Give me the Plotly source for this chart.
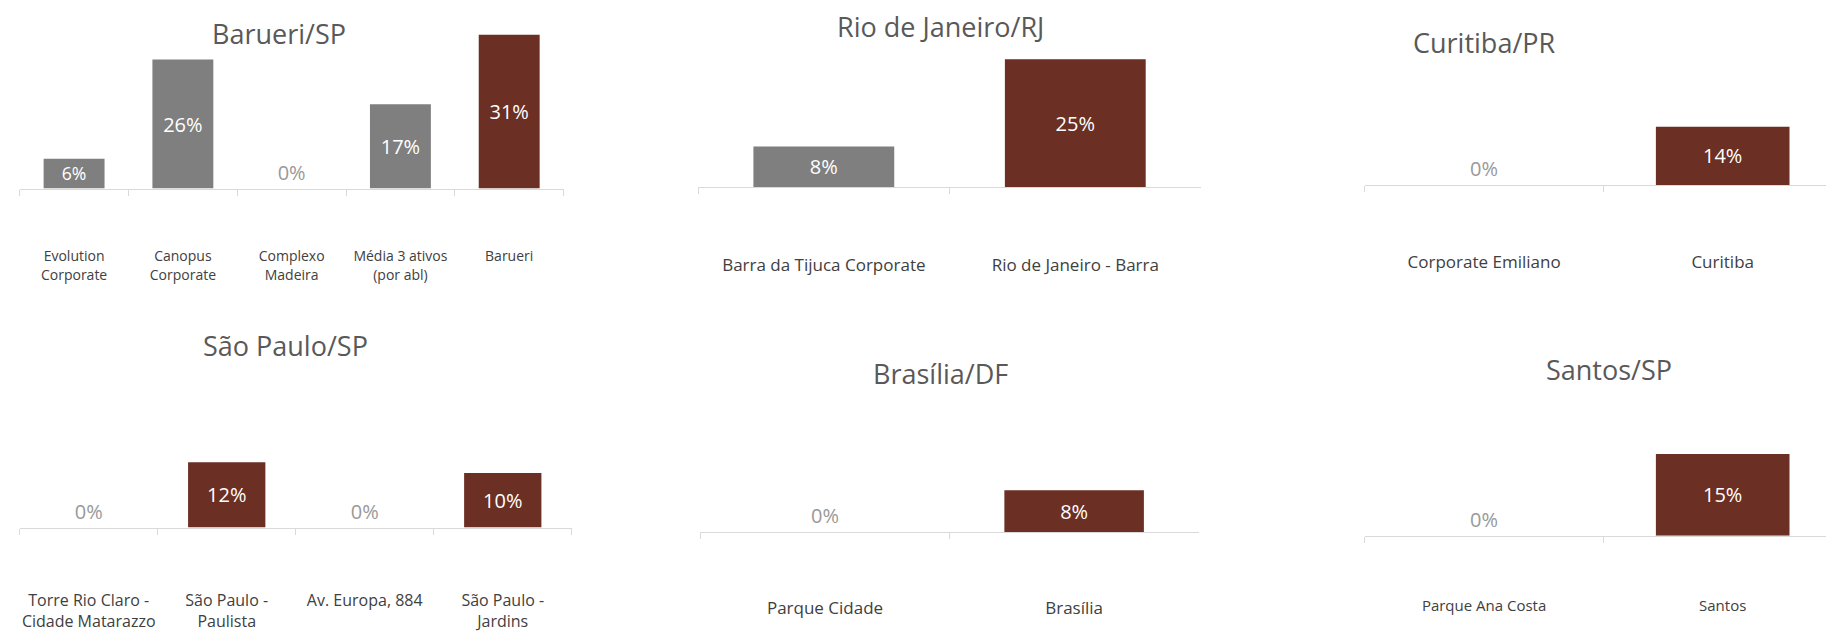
import plotly.graph_objects as go

H = 546.0
W = 1568.0
GREY = "#7f7f7f"
BROWN = "#6b2f23"

titles = ["Barueri/SP", "Rio de Janeiro/RJ", "Curitiba/PR", "São Paulo/SP", "Brasília/DF", "Santos/SP"]
cats = [
    ["Evolution<br>Corporate", "Canopus<br>Corporate", "Complexo<br>Madeira", "Média 3 ativos<br>(por abl)", "Barueri"],
    ["Barra da Tijuca Corporate", "Rio de Janeiro - Barra"],
    ["Corporate Emiliano", "Curitiba"],
    ["Torre Rio Claro -<br>Cidade Matarazzo", "São Paulo -<br>Paulista", "Av. Europa, 884", "São Paulo -<br>Jardins"],
    ["Parque Cidade", "Brasília"],
    ["Parque Ana Costa", "Santos"],
]
vals = [
    [6, 26, 0, 17, 31],
    [8, 25],
    [0, 14],
    [0, 12, 0, 10],
    [0, 8],
    [0, 15],
]
colors = [
    [GREY, GREY, GREY, GREY, BROWN],
    [GREY, BROWN],
    [GREY, BROWN],
    [GREY, BROWN, GREY, BROWN],
    [GREY, BROWN],
    [GREY, BROWN],
]
# x0, x1, baseline, px per %, title x, title y, tick font, tick standoff
geo = [
    (10, 475, 155, 4.26, 232, 22, 14, 55),
    (590, 1020, 154, 4.4, 797, 16, 17, 62),
    (1160, 1568, 152, 3.57, 1262, 30, 17, 62),
    (10, 482, 446, 4.67, 237, 290, 16, 58),
    (592, 1018, 450, 4.5, 797, 314, 17, 60),
    (1160, 1568, 453, 4.67, 1369, 310, 15, 56),
]

fig = go.Figure()
for i in range(6):
    x0, x1, base, scale, tx, ty, tfs, stand = geo[i]
    top = base - 135
    n = str(i + 1) if i else ""
    tp = ["inside" if v > 0 else "outside" for v in vals[i]]
    tc = ["white" if v > 0 else "#999999" for v in vals[i]]
    fig.add_trace(go.Bar(
        x=cats[i], y=vals[i], marker_color=colors[i], marker_line_width=0,
        text=[f"{v}%" for v in vals[i]], textposition=tp,
        insidetextanchor="middle", textfont=dict(color=tc, size=20),
        cliponaxis=False, xaxis="x" + n, yaxis="y" + n, showlegend=False,
    ))
    fig.layout["xaxis" + n] = dict(
        domain=[x0 / W, x1 / W], anchor="y" + n, showline=True, linecolor="#d9d9d9",
        ticks="outside", tickson="boundaries", tickcolor="#d9d9d9", ticklen=6,
        tickfont=dict(size=tfs, color="#404040"), ticklabelstandoff=stand,
        showgrid=False, range=[-0.5, len(vals[i]) - 0.5], tickangle=0,
    )
    fig.layout["yaxis" + n] = dict(
        domain=[1 - base / H, 1 - top / H], anchor="x" + n, visible=False,
        range=[0, 135 / scale], showgrid=False, zeroline=False,
    )
    fig.add_annotation(text=titles[i], xref="paper", yref="paper",
                       x=tx / W, y=1 - ty / H, showarrow=False,
                       xanchor="center", yanchor="middle",
                       font=dict(size=27, color="#595959"))

fig.update_layout(width=1834, height=636, margin=dict(l=0, r=0, t=0, b=0),
                  paper_bgcolor="white", plot_bgcolor="white", bargap=0.44,
                  font=dict(family="Open Sans"))
fig.write_html("out.html")
